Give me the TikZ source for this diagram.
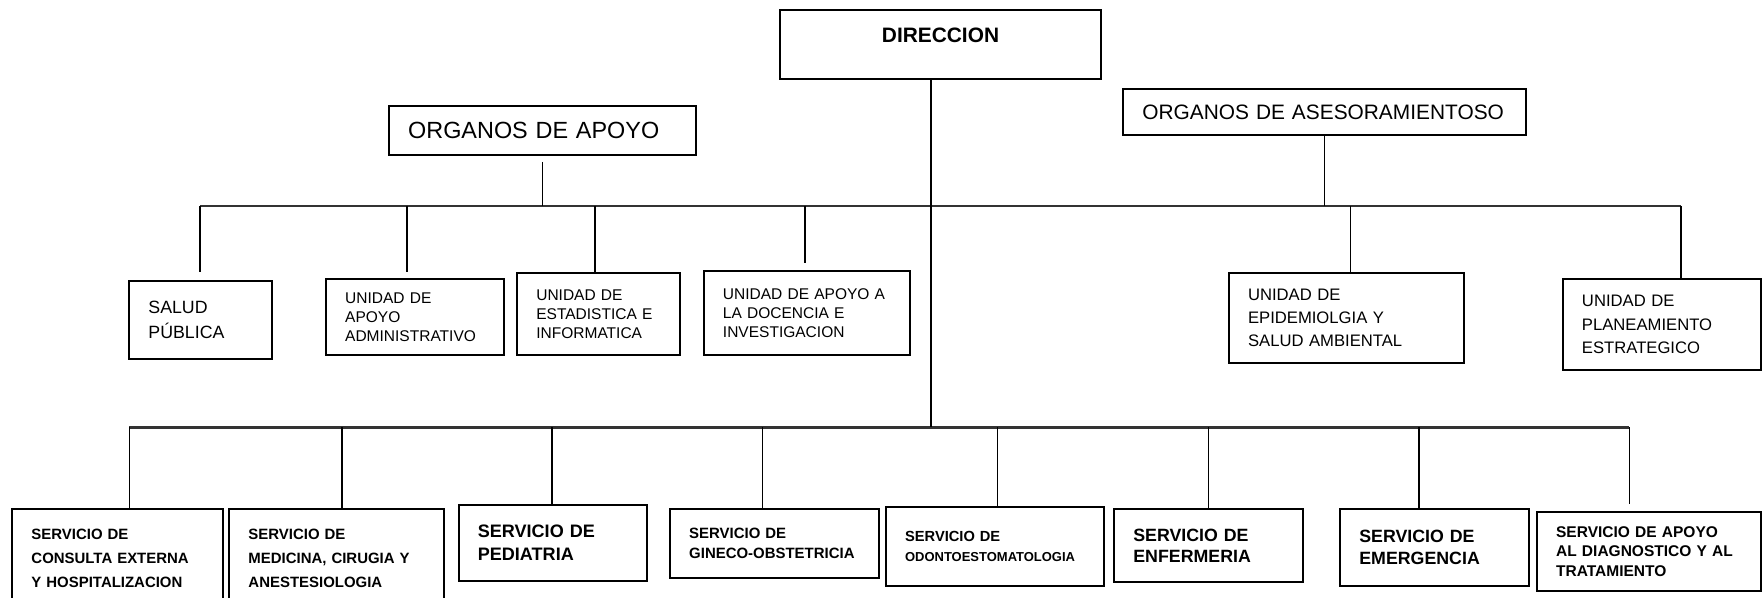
\documentclass[tikz,border=0pt]{standalone}
\usepackage{fontspec}
\setmainfont{Liberation Sans}
\usetikzlibrary{positioning,calc}
\tikzset{%
  orgBox/.style 2 args={%
    rectangle,
    draw=black,
    line width=0.7pt,
    minimum width=#1*0.014cm,
    minimum height=#2*0.014cm,
    text width=#1*0.014cm-0.476cm,
    inner xsep=0.238cm,
    inner ysep=0pt,
    align=left
  },
  headText/.style={font=\fontsize{8.3}{10}\selectfont},
  unitText/.style={font=\fontsize{5.5}{6.8}\selectfont},
  wideText/.style={font=\fontsize{5.9}{8.2}\selectfont},
  servText/.style={font=\bfseries\fontsize{5.3}{8.4}\selectfont},
  bigServText/.style={font=\bfseries\fontsize{6.3}{7.6}\selectfont},
  busLine/.style={line width=0.9pt, color=black!80},
  dropLine/.style={line width=0.5pt, color=black}
}

\begin{document}
\begin{tikzpicture}[x=0.014cm, y=-0.014cm]
  \clip (0,0) rectangle (1568,531);
  \useasboundingbox (0,0) rectangle (1568,531);

  % cabecera
  \node[rectangle, draw=black, line width=0.7pt, minimum width=285*0.014cm,
        minimum height=61*0.014cm, text depth=0.24cm,
        font=\bfseries\fontsize{7.4}{9}\selectfont] (dir) at (836.5,39.5) {DIRECCION};
  \node[orgBox={273}{44}, headText] (orgApoyo) at (482.5,116) {ORGANOS DE APOYO};
  \node[orgBox={358}{41}, font=\fontsize{7.4}{9}\selectfont] (orgAses) at (1178,99.5) {\mbox{ORGANOS DE ASESORAMIENTOSO}};

  % unidades
  \node[orgBox={127}{69}, font=\fontsize{6.3}{8.6}\selectfont] (salud) at (178.5,284.5) {SALUD\\PÚBLICA};
  \node[orgBox={158}{68}, unitText] (apoyoAdm) at (369,282) {UNIDAD DE\\APOYO\\ADMINISTRATIVO};
  \node[orgBox={145}{73}, unitText] (estad) at (532.5,279.5) {UNIDAD DE\\ESTADISTICA E\\INFORMATICA};
  \node[orgBox={183}{75}, unitText] (docencia) at (717.5,278.5) {UNIDAD DE APOYO A\\LA DOCENCIA E\\INVESTIGACION};
  \node[orgBox={209}{80}, wideText] (epidem) at (1197.5,283) {UNIDAD DE\\EPIDEMIOLGIA Y\\SALUD AMBIENTAL};
  \node[orgBox={176}{81}, wideText] (planea) at (1478,288.5) {UNIDAD DE\\PLANEAMIENTO\\ESTRATEGICO};

  % servicios
  \node[orgBox={187}{87}, servText] (consulta) at (104.5,496.5) {SERVICIO DE\\CONSULTA EXTERNA\\Y HOSPITALIZACION};
  \node[orgBox={191}{87}, servText] (medicina) at (299.5,496.5) {SERVICIO DE\\MEDICINA, CIRUGIA Y\\ANESTESIOLOGIA};
  \node[orgBox={167}{68}, font=\bfseries\fontsize{6.4}{8.2}\selectfont] (pediatria) at (491.5,483) {SERVICIO DE\\PEDIATRIA};
  \node[orgBox={186}{61}, font=\bfseries\fontsize{5.3}{7}\selectfont] (gineco) at (689,483.5) {SERVICIO DE\\GINECO-OBSTETRICIA};
  \node[orgBox={194}{70}, font=\bfseries\fontsize{5.2}{7.4}\selectfont] (odonto) at (885,486) {SERVICIO DE\\{\fontsize{4.6}{7.4}\selectfont ODONTOESTOMATOLOGIA}};
  \node[orgBox={168}{65}, bigServText] (enfermeria) at (1075,485.5) {SERVICIO DE\\ENFERMERIA};
  \node[orgBox={168}{68}, bigServText] (emergencia) at (1276,487) {SERVICIO DE\\EMERGENCIA};
  \node[orgBox={199}{71}, font=\bfseries\fontsize{5.5}{6.9}\selectfont] (apoyoDiag) at (1466.5,490.5) {SERVICIO DE APOYO\\AL DIAGNOSTICO Y AL\\TRATAMIENTO};

  % barras
  \coordinate (t1) at (178,183);
  \coordinate (t2) at (362,183);
  \coordinate (t3) at (529,183);
  \coordinate (t4) at (716,183);
  \coordinate (t5) at (1201,183);
  \coordinate (t6) at (1495,183);
  \coordinate (b1) at (115,380);
  \coordinate (b2) at (304,380);
  \coordinate (b3) at (491,380);
  \coordinate (b4) at (678,380);
  \coordinate (b5) at (887,380);
  \coordinate (b6) at (1075,380);
  \coordinate (b7) at (1262,380);
  \coordinate (b8) at (1449,380);
  \coordinate (trunk) at (828,380);

  \draw[busLine] (t1) -- (t6);
  \draw[busLine] (b1) -- (b8);
  \draw[dropLine] (trunk |- dir.south) -- (trunk);
  \draw[dropLine, shorten <=0.07cm] (orgApoyo.south) -- (orgApoyo.south |- t1);
  \draw[dropLine] (orgAses.south) -- (orgAses.south |- t1);

  \foreach \c/\n/\g in {t1/salud/0.1cm, t2/apoyoAdm/0.07cm, t3/estad/0cm,
                       t4/docencia/0.085cm, t5/epidem/0cm, t6/planea/0cm}
    \draw[dropLine, shorten >=\g] (\c) -- (\c |- \n.north);

  \foreach \c/\n/\g in {b1/consulta/0cm, b2/medicina/0cm, b3/pediatria/0cm,
                       b4/gineco/0cm, b5/odonto/0cm, b6/enfermeria/0cm,
                       b7/emergencia/0cm, b8/apoyoDiag/0.08cm}
    \draw[dropLine, shorten >=\g] (\c) -- (\c |- \n.north);
\end{tikzpicture}
\end{document}
